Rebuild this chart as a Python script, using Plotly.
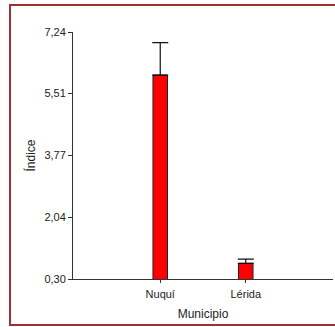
import plotly.graph_objects as go

categories = ["Nuquí", "Lérida"]
values = [6.03, 0.74]
err_plus = [0.91, 0.12]
y_ticks = [0.30, 2.04, 3.77, 5.51, 7.24]
y_tick_labels = ["0,30", "2,04", "3,77", "5,51", "7,24"]

x_pos = list(range(len(categories)))

fig = go.Figure()
fig.add_trace(go.Bar(
    x=x_pos, y=values, width=0.17,
    marker=dict(color="#FF0000", line=dict(color="#222222", width=1)),
    error_y=dict(type="data", symmetric=False, array=err_plus,
                 arrayminus=[0] * len(values), color="#111111",
                 thickness=1.2, width=8),
))

L, T, R, B = 73, 32, 2, 48
W, H = 335, 327
pw, ph = W - L - R, H - T - B

def px_x(p):
    return (p - L) / pw

def px_y(p):
    return 1 - (p - T) / ph

fig.add_shape(type="rect", xref="paper", yref="paper",
              x0=px_x(10), x1=px_x(345), y0=px_y(325), y1=px_y(5),
              line=dict(color="#993333", width=2), fillcolor="rgba(0,0,0,0)",
              layer="below")

fig.update_layout(
    width=W, height=H,
    margin=dict(l=L, r=R, t=T, b=B, pad=0),
    paper_bgcolor="white", plot_bgcolor="white",
    font=dict(family="Liberation Sans, Arial, sans-serif", size=11, color="#222222"),
    showlegend=False,
    bargap=0,
    hovermode=False,
)
fig.update_xaxes(
    range=[-1.02, 2.02], tickvals=x_pos, ticktext=categories,
    showline=True, linecolor="#333333", linewidth=1,
    ticks="outside", ticklen=3, tickcolor="#333333",
    ticklabelstandoff=2,
    showgrid=False, zeroline=False,
    title=dict(text="Municipio", font=dict(size=12), standoff=10),
)
fig.update_yaxes(
    range=[0.30, 7.24], tickvals=y_ticks, ticktext=y_tick_labels,
    showline=True, linecolor="#333333", linewidth=1,
    ticks="outside", ticklen=4, tickcolor="#333333",
    showgrid=False, zeroline=False,
    title=dict(text="Índice", font=dict(size=12), standoff=6),
)

fig.write_html("out.html",
               config={"displayModeBar": False, "staticPlot": True},
               post_script="document.body.style.margin='0';document.body.style.overflow='hidden';")
